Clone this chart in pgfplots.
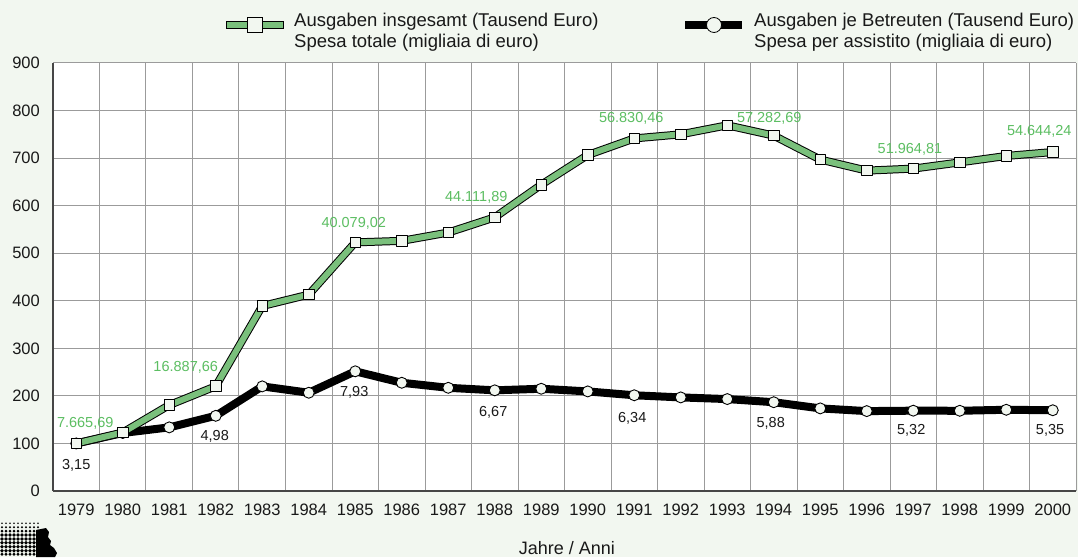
\documentclass[border=0pt]{standalone}
\usepackage{pgfplots}
\usepackage{pgfplotstable}
\pgfplotsset{compat=1.18}
\usepackage{fontspec}
\setmainfont{Liberation Sans}
\definecolor{bg}{RGB}{242,247,240}
\definecolor{gline}{RGB}{122,192,124}
\definecolor{glabel}{RGB}{92,190,98}
\definecolor{gridc}{RGB}{155,155,155}
\definecolor{axisc}{RGB}{70,70,70}
\definecolor{mfill}{RGB}{242,247,240}
\definecolor{txt}{RGB}{25,25,25}
\tikzset{
  glab/.style={text=glabel, inner sep=0pt, anchor=center, font=\fontsize{14.5}{16}\selectfont},
  blab/.style={text=txt, inner sep=0pt, anchor=center, font=\fontsize{14.5}{16}\selectfont},
}

\pgfplotstableread{
year tot per
1979 100 100
1980 123 122
1981 180.7 133.8
1982 220.3 158.1
1983 389 220
1984 413 206.6
1985 522.8 251.7
1986 526 227.6
1987 543.5 217
1988 575.4 211.7
1989 644 215
1990 706.5 209.4
1991 741.4 201.3
1992 750 196.8
1993 769 193.3
1994 747.3 186.7
1995 697 173.7
1996 673.7 168
1997 677.9 168.9
1998 691 168.7
1999 704.5 170.8
2000 712.8 169.8
}\data

\begin{document}
\begin{tikzpicture}
\fill[bg] (0pt,0pt) rectangle (1078pt,557pt);
\begin{axis}[
  at={(53pt,66pt)}, anchor=south west,
  scale only axis, width=1023pt, height=428pt,
  xmin=1978.5, xmax=2000.5, ymin=0, ymax=900,
  axis background/.style={fill=white},
  axis x line*=bottom, axis y line*=left,
  axis line style={axisc, line width=1.3pt, -},
  xtick={1979,1980,...,2000},
  xticklabels={1979,1980,1981,1982,1983,1984,1985,1986,1987,1988,1989,1990,1991,1992,1993,1994,1995,1996,1997,1998,1999,2000},
  minor xtick={1979.5,1980.5,...,2000.5},
  ytick={0,100,...,900},
  ymajorgrids, xminorgrids,
  minor grid style={gridc, line width=1pt},
  major grid style={gridc, line width=1pt},
  major tick length=0pt, minor tick length=0pt,
  tick label style={font=\fontsize{16.5}{18}\selectfont, text=txt},
  /pgf/number format/assume math mode=true,
  yticklabel style={inner sep=0pt, xshift=-13pt, anchor=east},
  xticklabel style={inner sep=0pt, yshift=-13pt, anchor=north},
  xlabel={Jahre / Anni},
  xlabel style={at={(axis description cs:0.5024,-0.1495)}, anchor=base, inner sep=0pt, font=\fontsize{18}{20}\selectfont, text=txt},
  clip=false,
]
\addplot[black, line width=8pt, line join=round] table[x=year,y=per]{\data};
\addplot[only marks, mark=*, mark size=5.5pt, mark options={fill=mfill, draw=black, line width=0.9pt}] table[x=year,y=per]{\data};
\addplot[black, line width=8pt, line join=round] table[x=year,y=tot]{\data};
\addplot[gline, line width=6pt, line join=round, mark=square*, mark size=5.3pt, mark options={fill=mfill, draw=black, line width=0.9pt}] table[x=year,y=tot]{\data};

\node[glab, xshift=9pt, yshift=20.5pt] at (axis cs:1979,100) {7.665,69};
\node[glab, xshift=-30pt, yshift=19pt] at (axis cs:1982,220.3) {16.887,66};
\node[glab, xshift=-1.5pt, yshift=19.3pt] at (axis cs:1985,522.8) {40.079,02};
\node[glab, xshift=-18.5pt, yshift=20pt] at (axis cs:1988,575.4) {44.111,89};
\node[glab, xshift=-3pt, yshift=20pt] at (axis cs:1991,741.4) {56.830,46};
\node[glab, xshift=-4.5pt, yshift=17pt] at (axis cs:1994,747.3) {57.282,69};
\node[glab, xshift=-3.3pt, yshift=19.6pt] at (axis cs:1997,677.9) {51.964,81};
\node[glab, xshift=-13.5pt, yshift=21pt] at (axis cs:2000,712.8) {54.644,24};

\node[blab, xshift=0pt, yshift=-21.5pt] at (axis cs:1979,100) {3,15};
\node[blab, xshift=-1pt, yshift=-21pt] at (axis cs:1982,158.1) {4,98};
\node[blab, xshift=-1pt, yshift=-21.4pt] at (axis cs:1985,251.7) {7,93};
\node[blab, xshift=-1.5pt, yshift=-22.4pt] at (axis cs:1988,211.7) {6,67};
\node[blab, xshift=-2pt, yshift=-23.4pt] at (axis cs:1991,201.3) {6,34};
\node[blab, xshift=-3pt, yshift=-21.5pt] at (axis cs:1994,186.7) {5,88};
\node[blab, xshift=-2pt, yshift=-20pt] at (axis cs:1997,168.9) {5,32};
\node[blab, xshift=-2.7pt, yshift=-20.6pt] at (axis cs:2000,169.8) {5,35};
\end{axis}

% legend
\filldraw[fill=gline, draw=black, line width=0.8pt] (226pt,528.5pt) rectangle (283pt,535.5pt);
\filldraw[fill=mfill, draw=black, line width=0.8pt] (247.5pt,524.5pt) rectangle (262.5pt,539.5pt);
\node[anchor=base west, inner sep=0pt, font=\fontsize{18.5}{20}\selectfont, text=txt] at (294pt,530.4pt) {Ausgaben insgesamt (Tausend Euro)};
\node[anchor=base west, inner sep=0pt, font=\fontsize{18.5}{20}\selectfont, text=txt] at (294pt,509.5pt) {Spesa totale (migliaia di euro)};
\fill[black] (685pt,528pt) rectangle (742pt,536pt);
\filldraw[fill=mfill, draw=black, line width=0.8pt] (714pt,532pt) circle (7.5pt);
\node[anchor=base west, inner sep=0pt, font=\fontsize{18.5}{20}\selectfont, text=txt] at (754pt,530.4pt) {Ausgaben je Betreuten (Tausend Euro)};
\node[anchor=base west, inner sep=0pt, font=\fontsize{18.5}{20}\selectfont, text=txt] at (754pt,509.5pt) {Spesa per assistito (migliaia di euro)};

% logo
\foreach \yy/\rr in {33.7/0.9,29.7/1.1,26/1.5,22/1.8,18/1.9,14.3/1.9,10.3/1.9,6.3/1.8,2.7/1.6}{
  \foreach \xx in {2,6,...,38}{
    \fill[black] (\xx pt,\yy pt) circle (\rr pt);
  }
}
\fill[black] (36pt,27pt) -- (46pt,29pt) -- (49pt,25pt) -- (48pt,20pt) -- (51pt,16pt) -- (50pt,12pt) -- (54pt,9pt) -- (57pt,4pt) -- (55pt,0pt) -- (36pt,0pt) -- cycle;

\pgfresetboundingbox
\useasboundingbox (0pt,0pt) rectangle (1078pt,557pt);
\end{tikzpicture}
\end{document}
